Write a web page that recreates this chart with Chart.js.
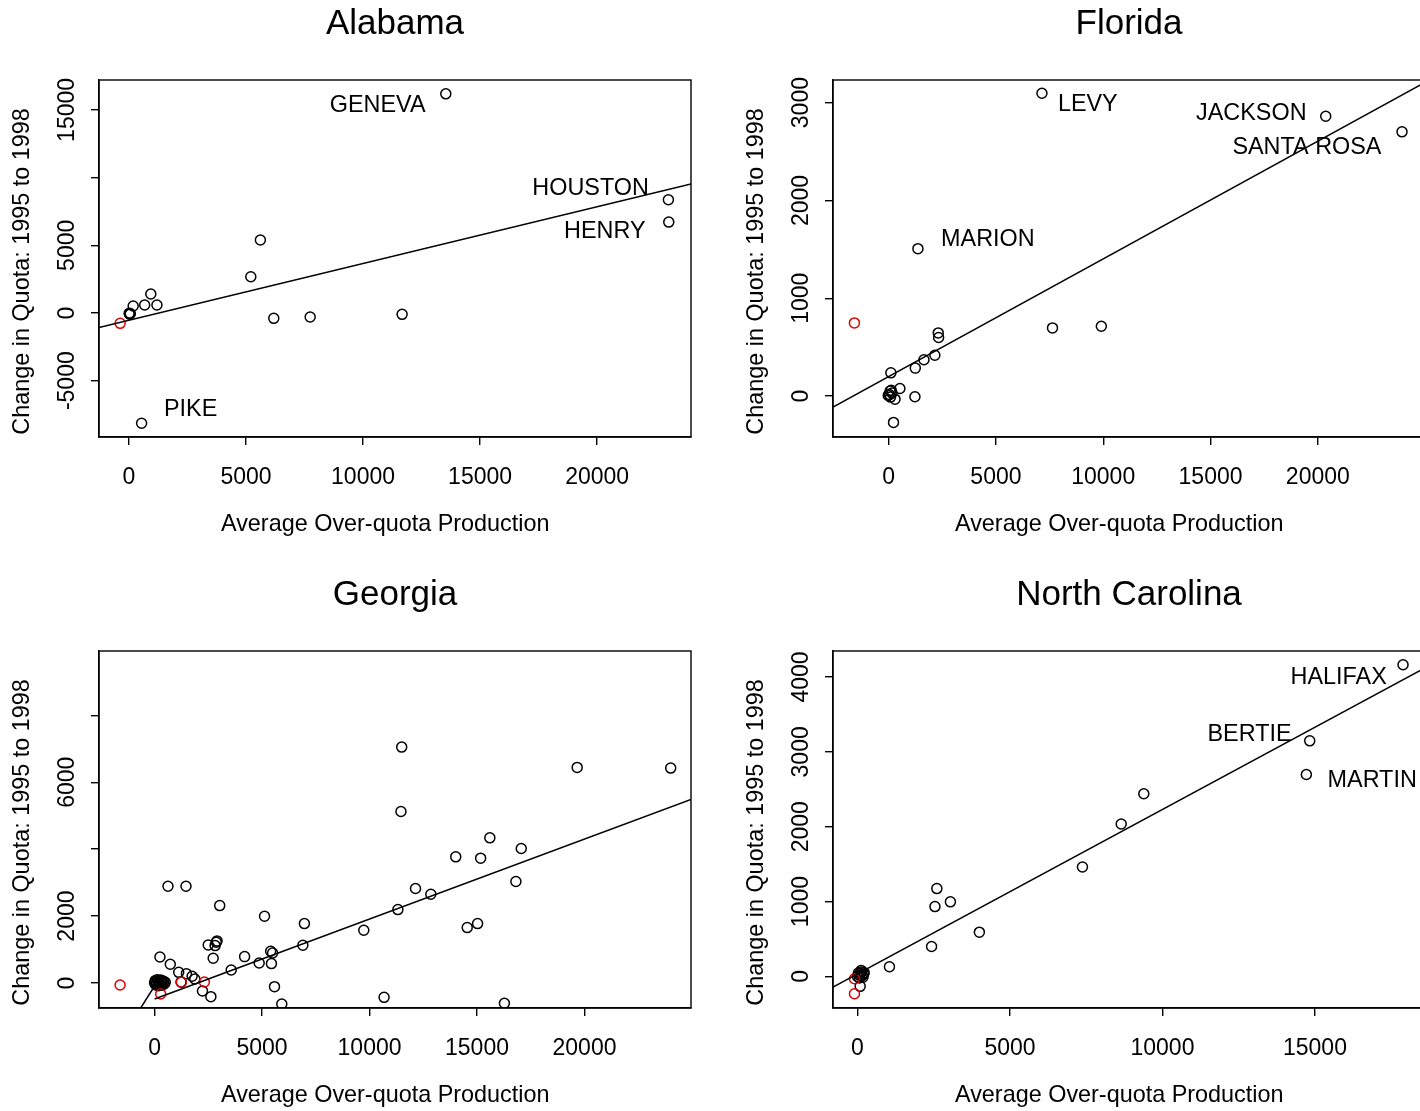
<!DOCTYPE html>
<html>
<head>
<meta charset="utf-8">
<title>Change in Quota vs Over-quota Production</title>
<script src="https://cdn.jsdelivr.net/npm/chart.js@4.4.1/dist/chart.umd.min.js"></script>
<style>
  html, body { margin: 0; padding: 0; background: #fff; overflow: hidden; }
  #grid { position: relative; width: 1468px; height: 1142px; }
  #grid canvas { position: absolute; }
</style>
</head>
<body>
<div id="grid">
  <canvas id="alabama" width="734" height="571" style="left:0;top:0"></canvas>
  <canvas id="florida" width="734" height="571" style="left:734px;top:0"></canvas>
  <canvas id="georgia" width="734" height="571" style="left:0;top:571px"></canvas>
  <canvas id="northCarolina" width="734" height="571" style="left:734px;top:571px"></canvas>
</div>
<script>
// ---- data (county values) ----
// the original axis labels carry trailing blanks, which shifts them off-centre
const xTitle = 'Average Over-quota Production   ';
const yTitle = 'Change in Quota: 1995 to 1998    ';

// Alabama
const alabamaX = [13535, 23044, 23060, 5614, 5205, 6187, 7741, 11669, 540, 933, 671, 1195, 180, 20, 40, 55, 10];
const alabamaY = [16187, 8364, 6716, 5387, 2681, -394, -295, -98, -8143, 1402, 590, 590, 517, -60, -90, -40, -20];
const alabamaRedX = [-376];
const alabamaRedY = [-763];
const alabamaFit = [-538, 0.419];
const alabamaXRange = [-1280, 24010];
const alabamaYRange = [-9158, 17208];
const alabamaXTicks = [0, 5000, 10000, 15000, 20000];
const alabamaYTicks = [-5000, 0, 5000, 10000, 15000];
const alabamaYLabels = ['-5000', '0', '5000', '', '15000'];
const alabamaNames = ['GENEVA', 'HOUSTON', 'HENRY', 'PIKE'];
const alabamaNameX = [10622, 19722, 20327, 2635];
const alabamaNameY = [15301, 9176, 6027, -7134];

// Florida
const floridaX = [7145, 20368, 23923, 1366, 7636, 9912, 2312, 2329, 2154, 1646, 1243, 105, 525, 1226, 228, 70, 35, 88, 298, 158, -17, 120];
const floridaY = [3095, 2861, 2701, 1507, 697, 714, 646, 599, 418, 371, 286, 238, 78, -7, -269, 51, 17, -10, -31, 31, 7, 60];
const floridaRedX = [-1594];
const floridaRedY = [748];
const floridaFit = [200, 0.1203];
const floridaXRange = [-2592, 24994];
const floridaYRange = [-418, 3231];
const floridaXTicks = [0, 5000, 10000, 15000, 20000];
const floridaYTicks = [0, 1000, 2000, 3000];
const floridaYLabels = ['0', '1000', '2000', '3000'];
const floridaNames = ['LEVY', 'JACKSON', 'SANTA ROSA', 'MARION'];
const floridaNameX = [9282, 16900, 19492, 4623];
const floridaNameY = [2983, 2888, 2541, 1605];

// Georgia
const georgiaX = [11497, 19661, 24011, 11462, 15597, 17059, 14011, 15169, 16809, 624, 1462, 12139, 12852, 3030, 5116,
  11319, 6970, 9733, 14545, 15027, 2870, 2906, 2496, 2816, 6898, 2727, 4189, 250, 5401, 5490, 4866, 5437, 3565, 731,
  1123, 1480, 1747, 1872, 1230, 2228, 2620, 5579, 5918, 10677, 16275,
  0, 50, 100, 150, 200, 250, 300, 350, 400, 450, 120, 60, 280, 180, 420, 500, 30, 330];
const georgiaY = [7052, 6444, 6424, 5127, 4339, 4020, 3771, 3731, 3033, 2893, 2893, 2823, 2653, 2314, 1995,
  2195, 1776, 1576, 1656, 1776, 1217, 1257, 1137, 1117, 1127, 738, 788, 778, 948, 898, 598, 579, 389, 559,
  319, 279, 200, 120, 30, -239, -409, -110, -628, -429, -608,
  0, 40, -20, 60, 10, -40, 30, 70, 0, -30, 100, -60, 90, -80, 50, 20, 70, -70];
const georgiaRedX = [-1604, 1248, 2317, 285];
const georgiaRedY = [-60, 20, 30, -329];
const georgiaFit = [-479, 0.239];
const georgiaLowFit = [-90, 1.02];
const georgiaXRange = [-2585, 24955];
const georgiaYRange = [-748, 9925];
const georgiaXTicks = [0, 5000, 10000, 15000, 20000];
const georgiaYTicks = [0, 2000, 4000, 6000, 8000];
const georgiaYLabels = ['0', '2000', '', '6000', ''];

// North Carolina
const ncX = [17888, 14829, 14718, 9388, 8648, 7377, 2603, 2541, 3047, 3997, 2430, 1049, 123, 89,
  0, 50, 100, 150, 200, 60, 130, 180, 220, 30];
const ncY = [4164, 3147, 2698, 2440, 2036, 1462, 1173, 933, 996, 591, 400, 129, 80, -133,
  0, 20, 40, 10, 30, -20, 60, -10, 50, 45];
const ncRedX = [-98, -98];
const ncRedY = [-231, -31];
const ncFit = [34, 0.2197];
const ncXRange = [-802, 18608];
const ncYRange = [-422, 4347];
const ncXTicks = [0, 5000, 10000, 15000];
const ncYTicks = [0, 1000, 2000, 3000, 4000];
const ncYLabels = ['0', '1000', '2000', '3000', '4000'];
const ncNames = ['HALIFAX', 'BERTIE', 'MARTIN'];
const ncNameX = [15777, 12854, 16876];
const ncNameY = [3987, 3231, 2613];

// ---- drawing ----
const FONT = '"Liberation Sans", Arial, Helvetica, sans-serif';
Chart.defaults.font.family = FONT;
Chart.defaults.color = '#000';

const measureCtx = document.createElement('canvas').getContext('2d');
function yTickPadding(labels) {
  measureCtx.font = '23px ' + FONT;
  const widest = Math.max(...labels.map(l => measureCtx.measureText(l).width));
  return 23 - widest / 2;   // rotated label centred ~31px left of the frame
}

function toPoints(xs, ys) {
  return xs.map((x, i) => ({ x: x, y: ys[i] }));
}

function fitLine(fit, x0, x1) {
  return [{ x: x0, y: fit[0] + fit[1] * x0 }, { x: x1, y: fit[0] + fit[1] * x1 }];
}

// box around the plot region + county names
const framePlugin = {
  id: 'frame',
  afterDatasetsDraw(chart, args, opts) {
    const { ctx, chartArea: a, scales } = chart;
    ctx.save();
    ctx.strokeStyle = '#000';
    ctx.lineWidth = 1.4;
    ctx.strokeRect(a.left, a.top, a.right - a.left, a.bottom - a.top);
    ctx.font = '23.4px ' + FONT;
    ctx.fillStyle = '#000';
    ctx.textAlign = 'center';
    ctx.textBaseline = 'middle';
    (opts.names || []).forEach((n, i) => {
      ctx.fillText(n, scales.x.getPixelForValue(opts.nameX[i]), scales.y.getPixelForValue(opts.nameY[i]));
    });
    ctx.restore();
  }
};

function makeChart(id, s) {
  const circle = {
    pointStyle: 'circle', pointRadius: 5, pointBorderWidth: 1.5,
    pointBackgroundColor: 'rgba(0,0,0,0)', showLine: false, clip: 0
  };
  const datasets = s.lines.map(pts => ({
    type: 'line', data: pts, borderColor: '#000', borderWidth: 1.5,
    pointRadius: 0, fill: false, clip: 0
  }));
  datasets.push(Object.assign({ data: toPoints(s.redX, s.redY), pointBorderColor: '#dd0000' }, circle));
  datasets.push(Object.assign({ data: toPoints(s.x, s.y), pointBorderColor: '#000' }, circle));

  const grid = { drawOnChartArea: false, drawTicks: true, tickLength: 8, color: '#000', lineWidth: 1.4 };
  const border = { display: true, color: '#000', width: 1.4 };

  return new Chart(document.getElementById(id), {
    type: 'scatter',
    data: { datasets: datasets },
    options: {
      responsive: false,
      animation: false,
      devicePixelRatio: 1,
      layout: { padding: { left: 0, right: 43, top: 0, bottom: 0 } },
      plugins: {
        legend: { display: false },
        tooltip: { enabled: false },
        title: {
          display: true, text: s.title, color: '#000', fullSize: false,
          font: { size: 35, weight: 'normal', lineHeight: 1.2 },
          padding: { top: 3, bottom: 35 }
        },
        frame: { names: s.names, nameX: s.nameX, nameY: s.nameY }
      },
      scales: {
        x: {
          type: 'linear', min: s.xRange[0], max: s.xRange[1],
          afterBuildTicks: sc => { sc.ticks = s.xTicks.map(v => ({ value: v })); },
          afterFit: sc => { sc.height = 134; },
          ticks: { autoSkip: false, maxRotation: 0, padding: 19, font: { size: 23 }, color: '#000',
                   callback: v => String(v) },
          grid: grid, border: border,
          title: { display: true, text: xTitle, color: '#000', font: { size: 23.4 }, padding: { top: 0, bottom: 32 } }
        },
        y: {
          type: 'linear', min: s.yRange[0], max: s.yRange[1],
          afterBuildTicks: sc => { sc.ticks = s.yTicks.map(v => ({ value: v })); },
          afterFit: sc => { sc.width = 99; },
          ticks: { autoSkip: false, minRotation: 90, maxRotation: 90, crossAlign: 'center',
                   padding: yTickPadding(s.yLabels), font: { size: 23 }, color: '#000',
                   callback: (v, i) => s.yLabels[i] },
          grid: grid, border: border,
          title: { display: true, text: yTitle, color: '#000', font: { size: 23.4 }, padding: { top: 9, bottom: 0 } }
        }
      }
    },
    plugins: [framePlugin]
  });
}

makeChart('alabama', {
  title: 'Alabama', x: alabamaX, y: alabamaY, redX: alabamaRedX, redY: alabamaRedY,
  lines: [fitLine(alabamaFit, alabamaXRange[0], alabamaXRange[1])],
  xRange: alabamaXRange, yRange: alabamaYRange, xTicks: alabamaXTicks, yTicks: alabamaYTicks, yLabels: alabamaYLabels,
  names: alabamaNames, nameX: alabamaNameX, nameY: alabamaNameY
});
makeChart('florida', {
  title: 'Florida', x: floridaX, y: floridaY, redX: floridaRedX, redY: floridaRedY,
  lines: [fitLine(floridaFit, floridaXRange[0], floridaXRange[1])],
  xRange: floridaXRange, yRange: floridaYRange, xTicks: floridaXTicks, yTicks: floridaYTicks, yLabels: floridaYLabels,
  names: floridaNames, nameX: floridaNameX, nameY: floridaNameY
});
makeChart('georgia', {
  title: 'Georgia', x: georgiaX, y: georgiaY, redX: georgiaRedX, redY: georgiaRedY,
  lines: [fitLine(georgiaFit, 0, georgiaXRange[1]), fitLine(georgiaLowFit, georgiaRedX[0], 0)],
  xRange: georgiaXRange, yRange: georgiaYRange, xTicks: georgiaXTicks, yTicks: georgiaYTicks, yLabels: georgiaYLabels,
  names: [], nameX: [], nameY: []
});
makeChart('northCarolina', {
  title: 'North Carolina', x: ncX, y: ncY, redX: ncRedX, redY: ncRedY,
  lines: [fitLine(ncFit, ncXRange[0], ncXRange[1])],
  xRange: ncXRange, yRange: ncYRange, xTicks: ncXTicks, yTicks: ncYTicks, yLabels: ncYLabels,
  names: ncNames, nameX: ncNameX, nameY: ncNameY
});
</script>
</body>
</html>
